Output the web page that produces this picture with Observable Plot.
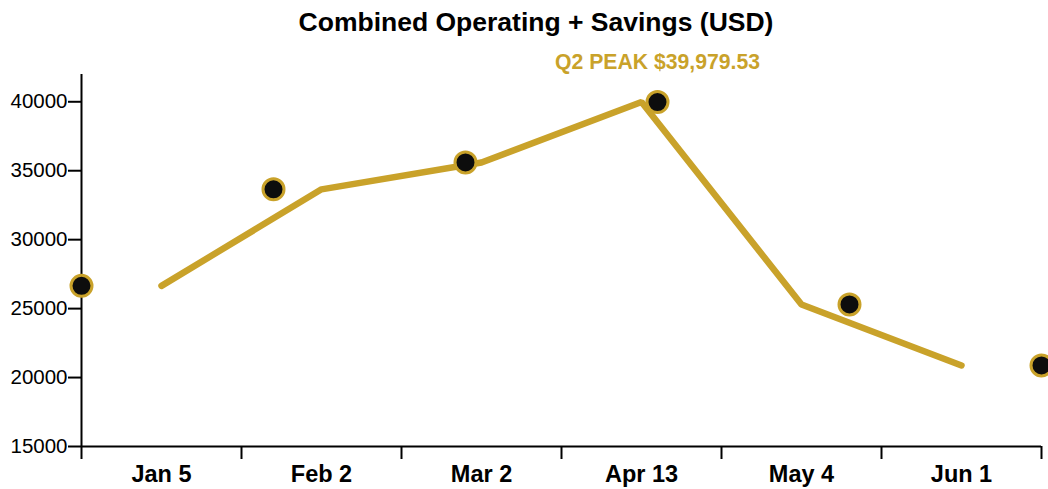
<!DOCTYPE html>
<html>
<head>
<meta charset="utf-8">
<script src="https://cdn.jsdelivr.net/npm/d3@7"></script>
<script src="https://cdn.jsdelivr.net/npm/@observablehq/plot@0.6"></script>
<style>
  html, body { margin: 0; padding: 0; background: #fff; }
  body { width: 1048px; height: 489px; overflow: hidden; font-family: "Liberation Sans", Arial, sans-serif; }
  #title { height: 44px; line-height: 44px; text-align: center; font-weight: bold; font-size: 26.5px; color: #000; padding-left: 24px; box-sizing: border-box; }
  svg { display: block; }
</style>
</head>
<body>
<div id="title">Combined Operating + Savings (USD)</div>
<div id="chart"></div>
<script>
const dates = ["Jan 5", "Feb 2", "Mar 2", "Apr 13", "May 4", "Jun 1"];
const values = [26650, 33650, 35600, 39979.53, 25300, 20880];
const yTicks = [15000, 20000, 25000, 30000, 35000, 40000];
const annotationPrefix = "Q2 PEAK ";

const gold = "#c9a22a";
const n = dates.length;
const rows = dates.map((d, i) => ({
  date: d,
  value: values[i],
  band: i + 0.5,               // centre of the date band
  spread: i * n / (n - 1)      // evenly spread across the full axis
}));
const peak = rows.reduce((a, b) => (b.value > a.value ? b : a));
const edges = d3.range(n + 1);

const chart = Plot.plot({
  width: 1048,
  height: 445,
  marginLeft: 81,
  marginRight: 7,
  marginTop: 30,
  marginBottom: 43,
  style: { fontFamily: "Liberation Sans, Arial, sans-serif", background: "#fff", overflow: "visible" },
  x: { domain: [0, n], axis: null },
  y: { domain: [15000, peak.value * 1.05], axis: null },
  marks: [
    Plot.ruleY([15000], { stroke: "#000", strokeWidth: 2 }),
    Plot.ruleX([0], { stroke: "#000", strokeWidth: 2 }),
    Plot.axisY({
      ticks: yTicks, tickSize: 13, tickPadding: 1, tickFormat: d => String(d),
      fontSize: 20.5, stroke: "#000", strokeWidth: 2, color: "#000", label: null
    }),
    Plot.axisX({
      ticks: edges, tickSize: 13, tickFormat: () => "", stroke: "#000", strokeWidth: 2, label: null
    }),
    Plot.axisX({
      ticks: rows.map(r => r.band), tickSize: 0, tickPadding: 19,
      tickFormat: (d) => dates[Math.round(d - 0.5)],
      fontSize: 23.5, fontWeight: "bold", color: "#000", label: null
    }),
    Plot.line(rows, { x: "band", y: "value", stroke: gold, strokeWidth: 6.5, strokeLinejoin: "miter" }),
    Plot.dot(rows, { x: "spread", y: "value", r: 10.5, fill: "#0d0d0d", stroke: gold, strokeWidth: 3 }),
    Plot.text([peak], {
      x: "spread", y: "value", dy: -40,
      text: d => annotationPrefix + d3.format("$,.2f")(d.value),
      fill: gold, fontSize: 21.2, fontWeight: "bold"
    })
  ]
});
document.getElementById("chart").appendChild(chart);
</script>
</body>
</html>
